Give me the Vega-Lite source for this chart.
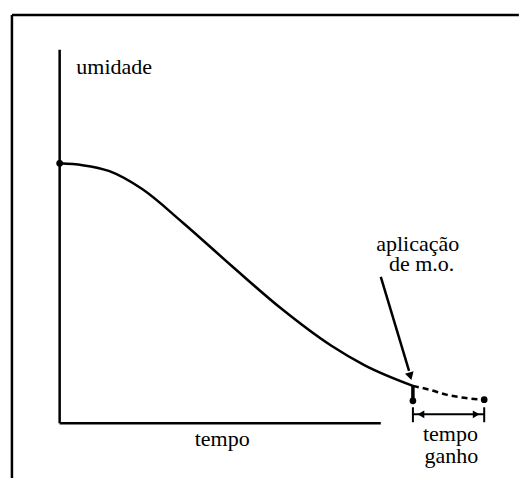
{
  "$schema": "https://vega.github.io/schema/vega-lite/v6.json",
  "width": 521,
  "height": 480,
  "autosize": {"type": "fit", "contains": "padding"},
  "padding": 0,
  "background": "white",
  "config": {"view": {"stroke": null}, "text": {"font": "Liberation Serif", "fontSize": 22}, "font": "Liberation Serif"},
  "datasets": {
    "frame": [
      {"t": -1.486, "u": 109.33, "t2": 14.3, "u2": 109.33},
      {"t": -1.486, "u": 109.33, "t2": -1.486, "u2": -14.7}
    ],
    "axes": [
      {"t": 0, "u": 100, "t2": 0, "u2": 0},
      {"t": 0, "u": 0, "t2": 10, "u2": 0}
    ],
    "curve": [
      {"t": 0, "u": 69.6},
      {"t": 0.71, "u": 69.1},
      {"t": 1.55, "u": 67.5},
      {"t": 2.57, "u": 62.7},
      {"t": 3.81, "u": 53.9},
      {"t": 5.36, "u": 42.1},
      {"t": 6.9, "u": 30.7},
      {"t": 8.45, "u": 20.8},
      {"t": 9.5, "u": 15.5},
      {"t": 11.0, "u": 10.0}
    ],
    "dashed": [
      {"t": 11.0, "u": 10.0},
      {"t": 11.5, "u": 9.0},
      {"t": 12.07, "u": 7.6},
      {"t": 12.6, "u": 6.8},
      {"t": 13.22, "u": 6.3}
    ],
    "drop": [{"t": 11.0, "u": 10.0, "t2": 11.0, "u2": 6.0}],
    "dots": [
      {"t": 0, "u": 69.6},
      {"t": 11.0, "u": 6.0},
      {"t": 13.22, "u": 6.3}
    ],
    "interval": [
      {"t": 11.0, "u": 0.27, "t2": 11.0, "u2": 4.27},
      {"t": 13.22, "u": 0.27, "t2": 13.22, "u2": 4.27},
      {"t": 11.0, "u": 2.4, "t2": 13.22, "u2": 2.4}
    ],
    "headLeft": [{"t": 11.25, "u": 2.4}],
    "headRight": [{"t": 12.97, "u": 2.4}],
    "pointer": [{"t": 10.0, "u": 39.2, "t2": 10.88, "u2": 14.0}],
    "pointerHead": [{"t": 10.92, "u": 12.6}],
    "labels": [
      {"t": 1.7, "u": 93.6, "label": "umidade"},
      {"t": 5.06, "u": -6.13, "label": "tempo"},
      {"t": 11.15, "u": 46.1, "label": "aplicação"},
      {"t": 11.27, "u": 40.8, "label": "de m.o."},
      {"t": 12.17, "u": -4.8, "label": "tempo"},
      {"t": 12.2, "u": -10.67, "label": "ganho"}
    ]
  },
  "encoding": {
    "x": {"field": "t", "type": "quantitative", "scale": {"domain": [-1.8576, 14.2724], "nice": false, "zero": false}, "axis": null},
    "y": {"field": "u", "type": "quantitative", "scale": {"domain": [-14.667, 113.333], "nice": false, "zero": false}, "axis": null}
  },
  "layer": [
    {
      "data": {"name": "frame"},
      "mark": {"type": "rule", "color": "black", "strokeWidth": 2.5, "clip": false},
      "encoding": {"x2": {"field": "t2"}, "y2": {"field": "u2"}}
    },
    {
      "data": {"name": "axes"},
      "mark": {"type": "rule", "color": "black", "strokeWidth": 2.5},
      "encoding": {"x2": {"field": "t2"}, "y2": {"field": "u2"}}
    },
    {
      "data": {"name": "curve"},
      "mark": {"type": "line", "color": "black", "strokeWidth": 2.5, "interpolate": "monotone"},
      "encoding": {"order": {"field": "t", "type": "quantitative"}}
    },
    {
      "data": {"name": "dashed"},
      "mark": {"type": "line", "color": "black", "strokeWidth": 2.5, "strokeDash": [6, 4], "interpolate": "monotone"},
      "encoding": {"order": {"field": "t", "type": "quantitative"}}
    },
    {
      "data": {"name": "drop"},
      "mark": {"type": "rule", "color": "black", "strokeWidth": 3.5},
      "encoding": {"x2": {"field": "t2"}, "y2": {"field": "u2"}}
    },
    {
      "data": {"name": "dots"},
      "mark": {"type": "point", "filled": true, "color": "black", "opacity": 1, "size": 45}
    },
    {
      "data": {"name": "interval"},
      "mark": {"type": "rule", "color": "black", "strokeWidth": 2},
      "encoding": {"x2": {"field": "t2"}, "y2": {"field": "u2"}}
    },
    {
      "data": {"name": "headLeft"},
      "mark": {"type": "point", "shape": "triangle-left", "filled": true, "color": "black", "opacity": 1, "size": 60}
    },
    {
      "data": {"name": "headRight"},
      "mark": {"type": "point", "shape": "triangle-right", "filled": true, "color": "black", "opacity": 1, "size": 60}
    },
    {
      "data": {"name": "pointer"},
      "mark": {"type": "rule", "color": "black", "strokeWidth": 2.5},
      "encoding": {"x2": {"field": "t2"}, "y2": {"field": "u2"}}
    },
    {
      "data": {"name": "pointerHead"},
      "mark": {"type": "point", "shape": "triangle-down", "filled": true, "color": "black", "opacity": 1, "size": 80, "angle": 344}
    },
    {
      "data": {"name": "labels"},
      "mark": {"type": "text", "font": "Liberation Serif", "fontSize": 22, "fill": "black", "align": "center", "baseline": "alphabetic"},
      "encoding": {"text": {"field": "label"}}
    }
  ]
}
